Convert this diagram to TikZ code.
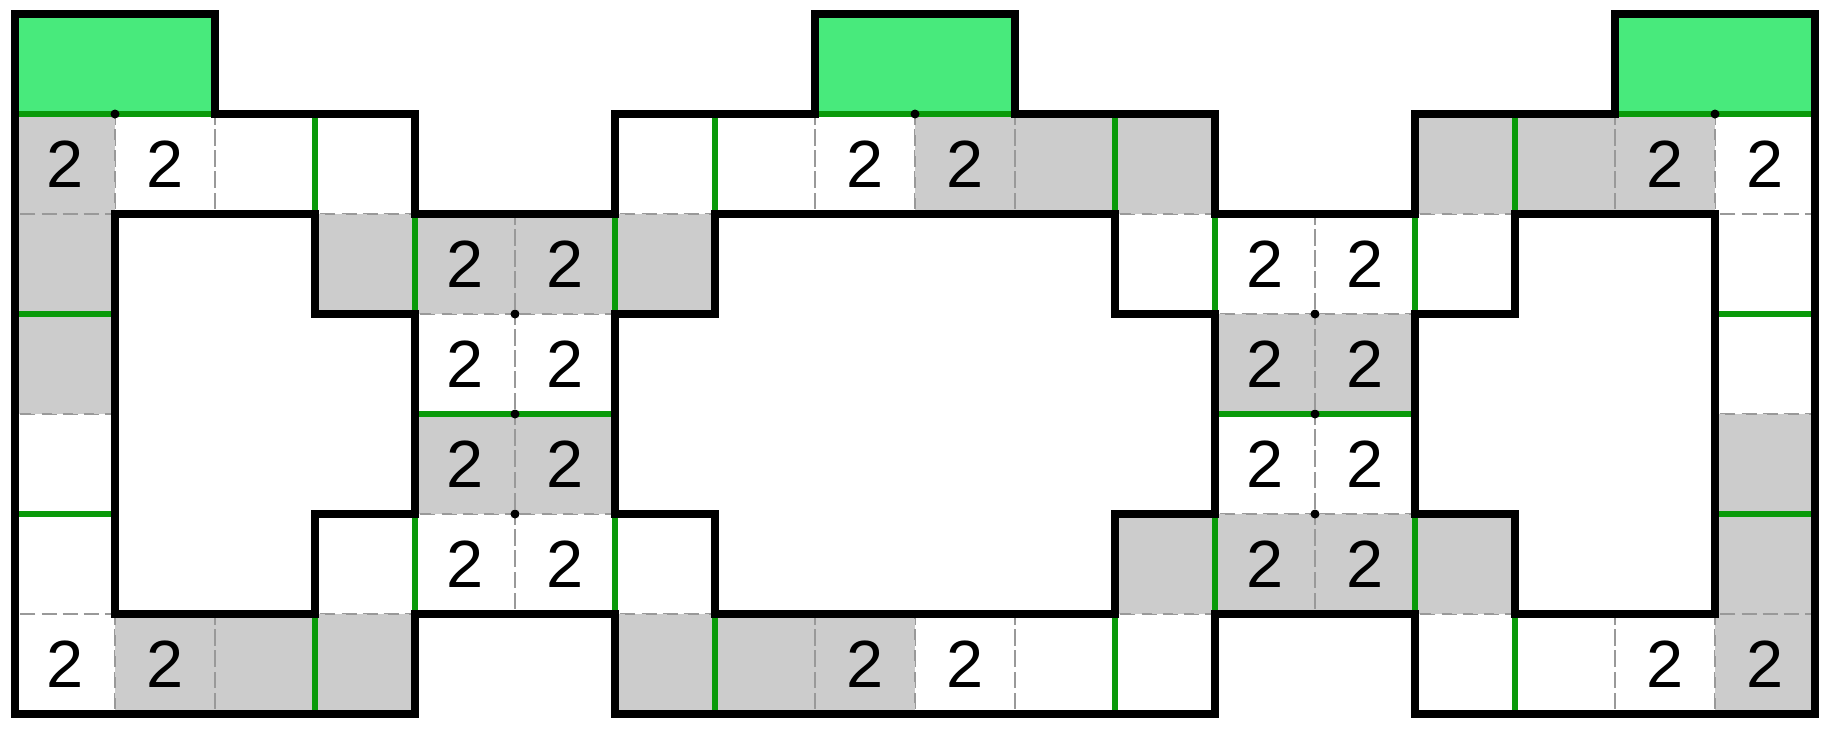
\documentclass[tikz,border=0pt]{standalone}
\usepackage{fontspec}
\setmainfont{Liberation Sans}
\definecolor{lg}{HTML}{48EA7C}
\definecolor{dg}{HTML}{0A9A0A}
\definecolor{gc}{HTML}{CCCCCC}
\begin{document}
\begin{tikzpicture}[x=1cm,y=-1cm,
  blk/.style={line width=2.1pt,line join=miter},
  gl/.style={draw=dg,line width=1.8pt},
  cellg/.style={fill=gc},
  dsh/.style={draw=gray!80,dashed,line width=0.3pt},
  num/.style={font=\fontsize{19}{19}\selectfont}]
\useasboundingbox (-0.15,-0.14) rectangle (18.15,7.16);
% cells dashed grid
\foreach \c/\r in {0/1,1/1,2/1,3/1,6/1,7/1,8/1,9/1,10/1,11/1,14/1,15/1,16/1,17/1,
 0/2,3/2,4/2,5/2,6/2,11/2,12/2,13/2,14/2,17/2,
 0/3,4/3,5/3,12/3,13/3,17/3,0/4,4/4,5/4,12/4,13/4,17/4,
 0/5,3/5,4/5,5/5,6/5,11/5,12/5,13/5,14/5,17/5,
 0/6,1/6,2/6,3/6,6/6,7/6,8/6,9/6,10/6,11/6,14/6,15/6,16/6,17/6}
 \draw[dsh] (\c,\r) rectangle ++(1,1);
% gray cells
\foreach \c/\r in {0/1,9/1,10/1,11/1,14/1,15/1,16/1,0/2,3/2,4/2,5/2,6/2,0/3,12/3,13/3,
 4/4,5/4,17/4,11/5,12/5,13/5,14/5,17/5,1/6,2/6,3/6,6/6,7/6,8/6,17/6}
 \fill[cellg] (\c,\r) rectangle ++(1,1);
\foreach \c/\r in {0/1,9/1,10/1,11/1,14/1,15/1,16/1,0/2,3/2,4/2,5/2,6/2,0/3,12/3,13/3,
 4/4,5/4,17/4,11/5,12/5,13/5,14/5,17/5,1/6,2/6,3/6,6/6,7/6,8/6,17/6}
 \draw[dsh] (\c,\r) rectangle ++(1,1);
% green boxes
\foreach \c in {0,8,16} \fill[lg] (\c,0) rectangle ++(2,1);
% numbers
\foreach \c/\r [count=\i] in {0/1,1/1,8/1,9/1,16/1,17/1,4/2,5/2,12/2,13/2,4/3,5/3,12/3,13/3,
 4/4,5/4,12/4,13/4,4/5,5/5,12/5,13/5,0/6,1/6,8/6,9/6,16/6,17/6}
 \node[num] (n\i) at (\c+0.5,\r+0.5) {2};
% green lines
\foreach \c in {0,8,16} \draw[gl] (\c,1) -- ++(2,0);
\foreach \x/\y in {3/1,7/1,11/1,15/1,4/2,6/2,12/2,14/2,4/5,6/5,12/5,14/5,3/6,7/6,11/6,15/6}
 \draw[gl] (\x,\y) -- ++(0,1);
\foreach \x/\y/\l in {0/3/1,17/3/1,4/4/2,12/4/2,0/5/1,17/5/1}
 \draw[gl] (\x,\y) -- ++(\l,0);
% outline
\draw[blk] (0,0) -- (2,0) -- (2,1) -- (4,1) -- (4,2) -- (6,2) -- (6,1) -- (8,1) -- (8,0) -- (10,0) -- (10,1)
 -- (12,1) -- (12,2) -- (14,2) -- (14,1) -- (16,1) -- (16,0) -- (18,0) -- (18,7) -- (14,7) -- (14,6)
 -- (12,6) -- (12,7) -- (6,7) -- (6,6) -- (4,6) -- (4,7) -- (0,7) -- cycle;
\draw[blk] (1,2) -- (3,2) -- (3,3) -- (4,3) -- (4,5) -- (3,5) -- (3,6) -- (1,6) -- cycle;
\draw[blk] (7,2) -- (11,2) -- (11,3) -- (12,3) -- (12,5) -- (11,5) -- (11,6) -- (7,6) -- (7,5) -- (6,5) -- (6,3) -- (7,3) -- cycle;
\draw[blk] (15,2) -- (17,2) -- (17,6) -- (15,6) -- (15,5) -- (14,5) -- (14,3) -- (15,3) -- cycle;
% dots
\foreach \x/\y [count=\i] in {1/1,9/1,17/1,5/3,5/4,5/5,13/3,13/4,13/5}
 \fill (\x,\y) circle (0.045) coordinate (d\i);
\end{tikzpicture}
\end{document}
